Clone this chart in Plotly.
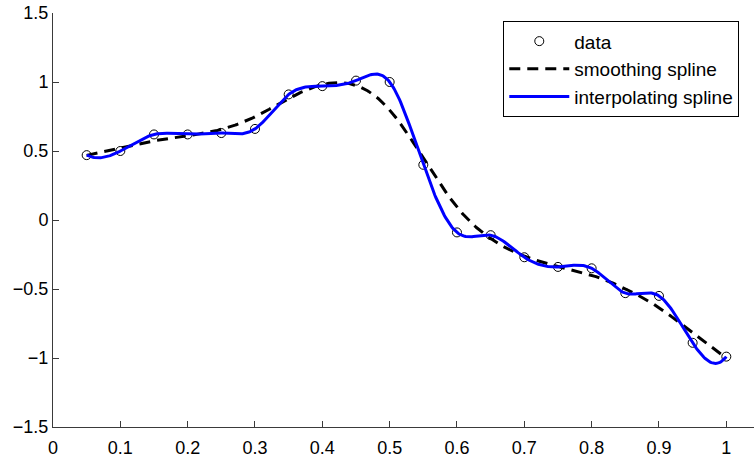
import numpy as np
import plotly.graph_objects as go

# Sample points
x_data = [0.05, 0.10, 0.15, 0.20, 0.25, 0.30, 0.35, 0.40, 0.45, 0.50,
          0.55, 0.60, 0.65, 0.70, 0.75, 0.80, 0.85, 0.90, 0.95, 1.00]
y_data = [0.47, 0.50, 0.62, 0.62, 0.63, 0.66, 0.91, 0.97, 1.01, 1.00,
          0.40, -0.09, -0.11, -0.27, -0.34, -0.35, -0.53, -0.55, -0.89, -0.99]

x_ticks = [0, 0.1, 0.2, 0.3, 0.4, 0.5, 0.6, 0.7, 0.8, 0.9, 1]
y_ticks = [-1.5, -1, -0.5, 0, 0.5, 1, 1.5]

# Roughness weight of the smoothing spline
smoothing_lambda = 1e-4


def eval_cubic(x, y, m, xq):
    """Evaluate a piecewise cubic given knot values y and second derivatives m."""
    x = np.asarray(x); y = np.asarray(y)
    idx = np.clip(np.searchsorted(x, xq) - 1, 0, len(x) - 2)
    x0, x1 = x[idx], x[idx + 1]
    h = x1 - x0
    a = x1 - xq
    b = xq - x0
    return (m[idx] * a ** 3 / (6 * h) + m[idx + 1] * b ** 3 / (6 * h)
            + (y[idx] / h - m[idx] * h / 6) * a
            + (y[idx + 1] / h - m[idx + 1] * h / 6) * b)


def interp_spline(x, y, xq):
    """Cubic interpolating spline with not-a-knot end conditions."""
    x = np.asarray(x, float); y = np.asarray(y, float)
    n = len(x)
    h = np.diff(x)
    A = np.zeros((n, n)); rhs = np.zeros(n)
    for i in range(1, n - 1):
        A[i, i - 1] = h[i - 1]
        A[i, i] = 2 * (h[i - 1] + h[i])
        A[i, i + 1] = h[i]
        rhs[i] = 6 * ((y[i + 1] - y[i]) / h[i] - (y[i] - y[i - 1]) / h[i - 1])
    A[0, 0], A[0, 1], A[0, 2] = h[1], -(h[0] + h[1]), h[0]
    A[-1, -3], A[-1, -2], A[-1, -1] = h[-1], -(h[-2] + h[-1]), h[-2]
    m = np.linalg.solve(A, rhs)
    return eval_cubic(x, y, m, xq)


def smoothing_spline(x, y, lam, xq):
    """Natural cubic smoothing spline (Reinsch form)."""
    x = np.asarray(x, float); y = np.asarray(y, float)
    n = len(x)
    h = np.diff(x)
    Q = np.zeros((n, n - 2))
    R = np.zeros((n - 2, n - 2))
    for j in range(1, n - 1):
        c = j - 1
        Q[j - 1, c] = 1 / h[j - 1]
        Q[j, c] = -1 / h[j - 1] - 1 / h[j]
        Q[j + 1, c] = 1 / h[j]
        R[c, c] = (h[j - 1] + h[j]) / 3
        if c + 1 < n - 2:
            R[c, c + 1] = R[c + 1, c] = h[j] / 6
    K = Q @ np.linalg.solve(R, Q.T)
    g = np.linalg.solve(np.eye(n) + lam * K, y)
    gamma = np.linalg.solve(R, Q.T @ g)
    m = np.concatenate([[0.0], gamma, [0.0]])
    return eval_cubic(x, g, m, xq)


xs = np.linspace(x_data[0], x_data[-1], 600)
y_smooth = smoothing_spline(x_data, y_data, smoothing_lambda, xs)
y_interp = interp_spline(x_data, y_data, xs)

font_family = "Liberation Sans, Arial, Helvetica, sans-serif"
tick_font_size = 18
legend_font_size = 19

fig = go.Figure()
fig.add_trace(go.Scatter(
    x=x_data, y=y_data, mode="markers", name="data",
    marker=dict(symbol="circle-open", size=9, color="black", line=dict(width=1, color="black")),
))
fig.add_trace(go.Scatter(
    x=xs, y=y_smooth, mode="lines", name="smoothing spline",
    line=dict(color="black", width=3, dash="11px,7px"),
))
fig.add_trace(go.Scatter(
    x=xs, y=y_interp, mode="lines", name="interpolating spline",
    line=dict(color="#0000ff", width=3),
))

axis_common = dict(
    showgrid=False, zeroline=False, showline=True, linecolor="#3a3a3a", linewidth=1,
    ticks="inside", ticklen=6, tickcolor="#3a3a3a", tickwidth=1,
    tickfont=dict(family=font_family, size=tick_font_size, color="black"), mirror=False,
)

fig.update_layout(
    width=754, height=460,
    margin=dict(l=53, r=0, t=13, b=33),
    paper_bgcolor="white", plot_bgcolor="white",
    font=dict(family=font_family, size=tick_font_size, color="black"),
    xaxis=dict(range=[0, 701 / 673.3], tickvals=x_ticks, ticktext=[f"{v:g}" for v in x_ticks],
               ticklabelstandoff=4, **axis_common),
    yaxis=dict(range=[-1.5, 1.5], tickvals=y_ticks,
               ticktext=[f"{v:g}".replace("-", "\u2212") for v in y_ticks],
               **axis_common),
    legend=dict(x=0.979, y=0.98, xanchor="right", yanchor="top",
                bgcolor="white", bordercolor="black", borderwidth=1,
                font=dict(family=font_family, size=legend_font_size, color="black"),
                itemwidth=60, tracegroupgap=0),
    showlegend=True,
)

fig.write_html("out.html")
